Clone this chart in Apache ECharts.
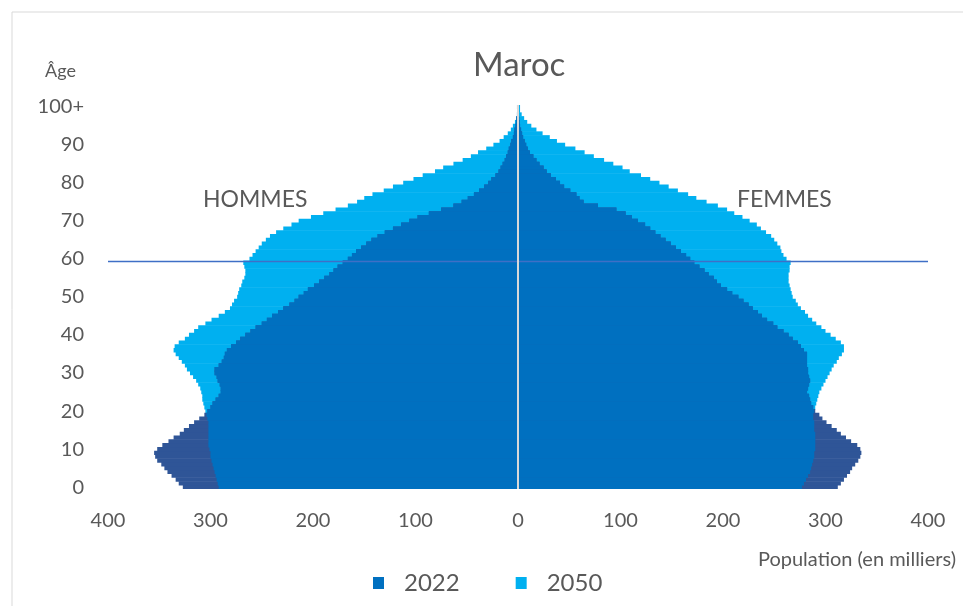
<!DOCTYPE html>
<html>
<head>
<meta charset="utf-8">
<script src="https://cdn.jsdelivr.net/npm/echarts@6/dist/echarts.min.js"></script>
<style>
html,body{margin:0;padding:0;background:#fff;}
#chart{width:963px;height:606px;}
</style>
</head>
<body>
<div id="chart"></div>
<script>
// Age categories 0..99, 100+
const ageLabels = [];
for (let i = 0; i < 100; i++) ageLabels.push(String(i));
ageLabels.push('100+');

// Population (thousands), ages 0..100+
const male2022 = [
327,331,334,338,342,345,348,352,354,355,
352,347,341,336,330,326,321,316,311,306,
303,300,298,295,292,290,290,291,293,294,
296,296,292,289,287,286,284,280,275,271,
266,261,256,250,245,240,234,229,223,218,
214,209,205,199,194,189,184,180,176,171,
166,162,158,153,148,143,137,130,122,114,
106,98,87,75,63,55,49,43,38,33,
29,26,22,19,17,15,13,11.5,10,9,
7.5,6.5,5,4,3.5,2.5,2,1.5,1,0.7,
1
];
const male2050 = [
292,293,294,295,296,297,298,299,300,300,
301,302,302,302,302,302,302,302,303,304,
305,306,307,308,308,309,310,312,314,317,
320,323,325,328,331,334,336,335,331,325,
321,316,312,305,299,292,286,281,279,277,
274,273,272,270,269,267,266,266,267,268,
262,259,256,253,250,246,242,236,229,221,
214,202,190,178,166,157,150,142,131,122,
112,102,93,81,73,63,54,46,39,31,
24,18,14,10,7,5,3,1.8,1,0.6,
0.5
];
const female2022 = [
312,315,318,321,324,326,329,332,334,335,
334,331,325,320,315,311,306,301,297,294,
290,288,286,285,284,282,283,284,285,284,
283,283,282,282,282,282,279,276,273,268,
264,259,253,249,243,238,234,229,225,220,
215,209,204,198,194,191,186,182,177,172,
168,164,159,154,149,144,139,134,129,124,
117,111,105,96,78,64,60,57,51,45,
41,37,32,28,25,21,18,15,11.5,9.5,
8,6.5,5,4,3,2,1.5,1.2,0.8,0.5,
0.8
];
const female2050 = [
277,279,281,283,285,286,287,288,289,289,
290,290,290,290,290,289,289,289,288,288,
289,290,291,292,293,294,296,298,300,302,
304,306,308,311,313,316,318,318,315,310,
305,300,296,291,287,283,280,276,273,271,
268,267,266,265,264,264,264,265,265,266,
262,259,257,256,253,250,247,242,237,233,
226,219,211,204,195,184,174,166,156,147,
138,129,120,109,102,93,84,74,65,56,
46,38,31,24,18,13,9,6,3.6,2,
2
];

const C_LIGHT = '#00B0F0', C_MID = '#0070C0', C_NAVY = '#2F5597', TXT = '#595959';
const FONT = 'Lato, "Open Sans", sans-serif';

const neg = a => a.map(v => -v);
const minOf = (a, b) => a.map((v, i) => Math.min(v, b[i]));

const barBase = { type: 'bar', barGap: '-100%', barWidth: '114%', silent: true, animation: false };

const chart = echarts.init(document.getElementById('chart'), null, { renderer: 'canvas' });
chart.setOption({
  animation: false,
  textStyle: { fontFamily: FONT, color: TXT },
  title: {
    text: 'Maroc', left: 468, top: 44,
    textStyle: { fontSize: 33, fontWeight: 'normal', color: TXT, fontFamily: FONT }
  },
  legend: {
    data: ['2022', '2050'],
    top: 566, left: 368,
    icon: 'rect', itemWidth: 11, itemHeight: 12, itemGap: 56,
    textStyle: { fontSize: 24, color: TXT, fontFamily: FONT, padding: [0, 0, 0, 15] },
    selectedMode: false
  },
  grid: { left: 108, right: 35, top: 105, bottom: 117 },
  xAxis: {
    type: 'value', min: -400, max: 400, interval: 100,
    axisLine: { show: false }, axisTick: { show: false }, splitLine: { show: false },
    axisLabel: { fontSize: 20, color: TXT, margin: 22, formatter: v => String(Math.abs(v)) }
  },
  yAxis: [{
    type: 'category', data: ageLabels,
    axisLine: { show: false, onZero: false }, axisTick: { show: false },
    axisLabel: { interval: 9, fontSize: 20, color: TXT, margin: 24 }
  }, {
    type: 'value', min: 0, max: 101, show: false
  }],
  graphic: [
    { type: 'rect', shape: { x: 12, y: 12, width: 960, height: 600 }, style: { fill: 'none', stroke: '#D9D9D9', lineWidth: 1 }, silent: true },
    { type: 'text', left: 45, top: 62, style: { text: 'Âge', fontSize: 18, fill: TXT, fontFamily: FONT } },
    { type: 'text', right: 7, top: 550, style: { text: 'Population (en milliers)', fontSize: 20, fill: TXT, fontFamily: FONT } },
    { type: 'text', left: 203, top: 188, style: { text: 'HOMMES', fontSize: 23, fill: TXT, fontFamily: FONT } },
    { type: 'text', left: 737, top: 188, style: { text: 'FEMMES', fontSize: 23, fill: TXT, fontFamily: FONT } }
  ],
  series: [
    Object.assign({}, barBase, { name: '2050', data: neg(male2050), itemStyle: { color: C_LIGHT } }),
    Object.assign({}, barBase, { name: '2050', data: female2050, itemStyle: { color: C_LIGHT } }),
    Object.assign({}, barBase, { name: '2022 (excédent)', data: neg(male2022), itemStyle: { color: C_NAVY } }),
    Object.assign({}, barBase, { name: '2022 (excédent)', data: female2022, itemStyle: { color: C_NAVY } }),
    Object.assign({}, barBase, { name: '2022', data: neg(minOf(male2022, male2050)), itemStyle: { color: C_MID } }),
    Object.assign({}, barBase, { name: '2022', data: minOf(female2022, female2050), itemStyle: { color: C_MID } }),
    {
      name: 'ref', type: 'line', yAxisIndex: 1, data: [], silent: true,
      markLine: {
        silent: true, symbol: 'none', label: { show: false }, animation: false,
        data: [
          { yAxis: 60, lineStyle: { color: '#3F6FC6', width: 1.3, type: 'solid' } },
          { xAxis: 0, lineStyle: { color: '#D9D9D9', width: 2, type: 'solid' } }
        ]
      }
    }
  ]
});
</script>
</body>
</html>
